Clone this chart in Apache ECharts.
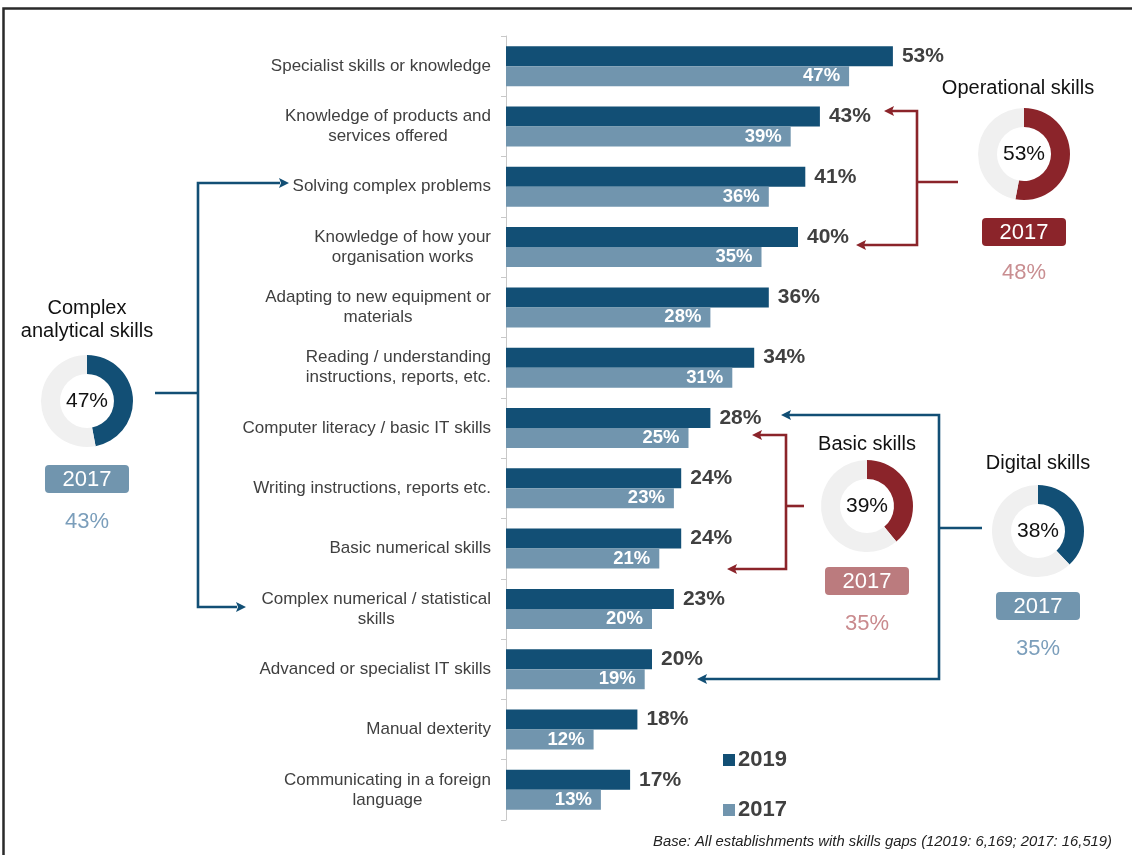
<!DOCTYPE html>
<html>
<head>
<meta charset="utf-8">
<script src="https://cdn.jsdelivr.net/npm/echarts@6/dist/echarts.min.js"></script>
<style>
  html, body { margin: 0; padding: 0; background: #ffffff; }
  #chart { width: 1132px; height: 855px; }
</style>
</head>
<body>
<div id="chart"></div>
<script>
// Skills lacking among staff with skills gaps, 2019 vs 2017 (% of establishments)
const categories = [
  'Specialist skills or knowledge',
  'Knowledge of products and\nservices offered',
  'Solving complex problems',
  'Knowledge of how your\norganisation works',
  'Adapting to new equipment or\nmaterials',
  'Reading / understanding\ninstructions, reports, etc.',
  'Computer literacy / basic IT skills',
  'Writing instructions, reports etc.',
  'Basic numerical skills',
  'Complex numerical / statistical\nskills',
  'Advanced or specialist IT skills',
  'Manual dexterity',
  'Communicating in a foreign\nlanguage'
];
const values2019 = [53, 43, 41, 40, 36, 34, 28, 24, 24, 23, 20, 18, 17];
const values2017 = [47, 39, 36, 35, 28, 31, 25, 23, 21, 20, 19, 12, 13];
const seriesNames = ['2019', '2017'];

// Skill-group summaries
const groupNames = ['Complex\nanalytical skills', 'Operational skills', 'Basic skills', 'Digital skills'];
const groupShare2019 = [47, 53, 39, 38];
const groupShare2017 = [43, 48, 35, 35];

const footnote = 'Base: All establishments with skills gaps (12019: 6,169; 2017: 16,519)';

// Palette
const NAVY = '#124f75';
const STEEL = '#7195ae';
const RED = '#8b242a';
const TEXT = '#404040';
const RING = '#f0f0f0';

// Visual layout of each group panel: donut centre, title, tag and colours
const groupLayout = [
  { cx: 87,   cy: 401, titleY: 320, tagY: 479, pctY: 522, arc: NAVY, tag: '#7195ae', pct: '#7b9ebb' },
  { cx: 1020, cy: 154, titleY: 88,  tagY: 232, pctY: 273, arc: RED,  tag: '#8b242a', pct: '#c98e91' },
  { cx: 867,  cy: 506, titleY: 444, tagY: 581, pctY: 624, arc: RED,  tag: '#bb7b7e', pct: '#c98a8d' },
  { cx: 1038, cy: 531, titleY: 463, tagY: 606, pctY: 649, arc: NAVY, tag: '#7195ae', pct: '#7b9ebb' }
];

const FONT = '"Liberation Sans", Arial, sans-serif';

const donutSeries = groupNames.map((name, i) => {
  const L = groupLayout[i];
  return {
    type: 'pie',
    name: name.replace('\n', ' '),
    center: [L.cx + (i === 1 ? 4 : 0), L.cy],
    radius: [27, 46],
    startAngle: 90,
    clockwise: true,
    silent: true,
    emphasis: { disabled: true },
    labelLine: { show: false },
    data: [
      { value: groupShare2019[i], itemStyle: { color: L.arc },
        label: { show: true, position: 'center', formatter: '{c}%', fontSize: 21, color: '#111', fontFamily: FONT } },
      { value: 100 - groupShare2019[i], itemStyle: { color: RING }, label: { show: false } }
    ]
  };
});

const graphics = [];

// Frame
graphics.push({ type: 'polyline', silent: true, z: 100,
  shape: { points: [[3.5, 855], [3.5, 8.5], [1132, 8.5]] },
  style: { stroke: '#2a2a2a', lineWidth: 2.5, fill: null } });

// Group titles, 2017 tags and 2017 shares
groupNames.forEach((name, i) => {
  const L = groupLayout[i];
  const tx = L.cx + (i === 1 ? 4 : 0);
  graphics.push({ type: 'text', silent: true, x: L.cx - (i === 1 ? 2 : 0), y: L.titleY,
    style: { text: name, fontSize: 20, fontFamily: FONT, fill: '#111', align: 'center', verticalAlign: 'middle', lineHeight: 23 } });
  graphics.push({ type: 'rect', silent: true,
    shape: { x: tx - 42, y: L.tagY - 14, width: 84, height: 28, r: 4 },
    style: { fill: L.tag } });
  graphics.push({ type: 'text', silent: true, x: tx, y: L.tagY + 1,
    style: { text: seriesNames[1], fontSize: 22, fontFamily: FONT, fill: '#ffffff', align: 'center', verticalAlign: 'middle' } });
  graphics.push({ type: 'text', silent: true, x: tx, y: L.pctY,
    style: { text: groupShare2017[i] + '%', fontSize: 22, fontFamily: FONT, fill: L.pct, align: 'center', verticalAlign: 'middle' } });
});

// Connector brackets with arrow heads
function line(points, color) {
  graphics.push({ type: 'polyline', silent: true, shape: { points },
    style: { stroke: color, lineWidth: 2.6, fill: null, lineJoin: 'miter' } });
}
function head(tipX, tipY, dir, color) {
  const len = 10, half = 5;
  const bx = tipX - dir * len;
  graphics.push({ type: 'polygon', silent: true,
    shape: { points: [[tipX, tipY], [bx, tipY - half], [bx + dir * 2, tipY], [bx, tipY + half]] },
    style: { fill: color } });
}
// Complex analytical skills
line([[155, 393], [198, 393]], NAVY);
line([[280, 183], [198, 183], [198, 607], [237, 607]], NAVY);
head(289, 183, 1, NAVY);
head(246, 607, 1, NAVY);
// Operational skills
line([[958, 182], [917, 182]], RED);
line([[892, 111], [917, 111], [917, 245], [864, 245]], RED);
head(884, 111, -1, RED);
head(856, 245, -1, RED);
// Basic skills
line([[804, 506], [786, 506]], RED);
line([[760, 435], [786, 435], [786, 569], [735, 569]], RED);
head(752, 435, -1, RED);
head(727, 569, -1, RED);
// Digital skills
line([[982, 528], [939, 528]], NAVY);
line([[789, 415], [939, 415], [939, 679], [705, 679]], NAVY);
head(781, 415, -1, NAVY);
head(697, 679, -1, NAVY);

// Footnote
graphics.push({ type: 'text', silent: true, x: 1112, y: 842,
  style: { text: footnote, fontSize: 14.8, fontStyle: 'italic', fontFamily: FONT, fill: '#222', align: 'right', verticalAlign: 'middle' } });

const option = {
  animation: false,
  backgroundColor: '#ffffff',
  textStyle: { fontFamily: FONT },
  legend: {
    data: seriesNames,
    orient: 'vertical',
    left: 718,
    top: 744,
    icon: 'rect',
    itemWidth: 12,
    itemHeight: 12,
    itemGap: 28,
    selectedMode: false,
    textStyle: { fontSize: 22, fontWeight: 'bold', color: TEXT, fontFamily: FONT, padding: [0, 0, 0, -2] }
  },
  grid: { left: 506, right: 188, top: 36, bottom: 35, containLabel: false },
  xAxis: {
    type: 'value', min: 0, max: 60,
    show: false
  },
  yAxis: {
    type: 'category',
    data: categories,
    inverse: true,
    axisLine: { show: true, lineStyle: { color: '#c8c8c8', width: 1 } },
    axisTick: { show: true, length: 5, lineStyle: { color: '#c8c8c8' } },
    axisLabel: {
      margin: 15,
      color: TEXT,
      fontSize: 17,
      fontFamily: FONT,
      lineHeight: 20,
      formatter: v => v.split('\n').map(s => '{c|' + s + '}').join('\n'),
      rich: { c: { align: 'center', fontSize: 17, color: TEXT, lineHeight: 20, fontFamily: FONT } }
    }
  },
  series: [
    {
      name: seriesNames[0], type: 'bar', data: values2019,
      barWidth: 20, barGap: '0%',
      itemStyle: { color: NAVY },
      label: { show: true, position: 'right', distance: 9, formatter: '{c}%',
        fontSize: 21, fontWeight: 'bold', color: TEXT, fontFamily: FONT }
    },
    {
      name: seriesNames[1], type: 'bar', data: values2017,
      barWidth: 20, barGap: '0%',
      itemStyle: { color: STEEL },
      label: { show: true, position: 'insideRight', distance: 9, formatter: '{c}%',
        fontSize: 18.5, fontWeight: 'bold', color: '#ffffff', fontFamily: FONT }
    },
    ...donutSeries
  ],
  graphic: graphics
};

const chart = echarts.init(document.getElementById('chart'), null, { renderer: 'canvas' });
chart.setOption(option);
</script>
</body>
</html>
